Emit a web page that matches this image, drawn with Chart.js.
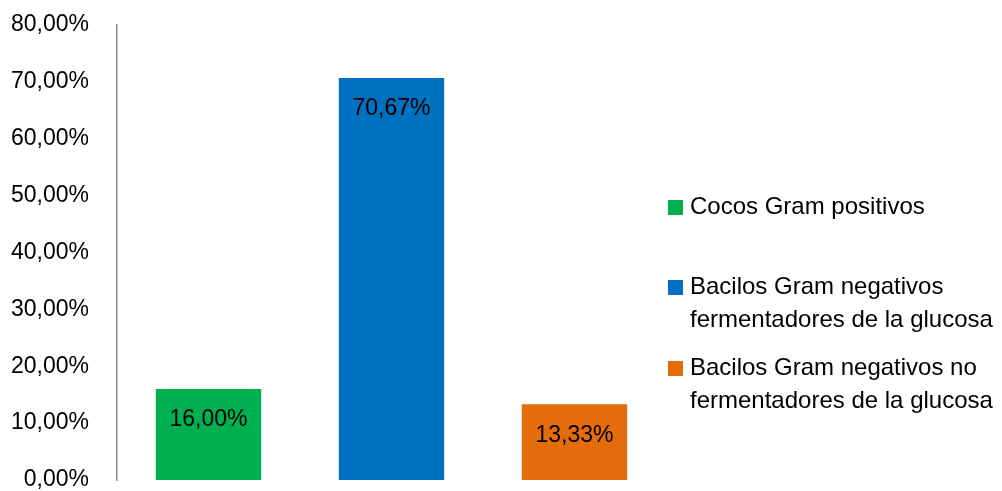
<!DOCTYPE html>
<html>
<head>
<meta charset="utf-8">
<script src="https://cdn.jsdelivr.net/npm/chart.js@4"></script>
<style>
  html, body { margin: 0; padding: 0; background: #fff; }
  canvas { display: block; }
</style>
</head>
<body>
<canvas id="grafico" width="1002" height="491"></canvas>
<script>
const categorias = [
  ["Cocos Gram positivos"],
  ["Bacilos Gram negativos", "fermentadores de la glucosa"],
  ["Bacilos Gram negativos no", "fermentadores de la glucosa"]
];
const porcentajes = [16.00, 70.67, 13.33];
const colores = ["#00B050", "#0070C0", "#E46C0A"];
const yMin = 0;
const yMax = 80;
const yPaso = 10;

const FONT = "'Liberation Sans', Arial, sans-serif";
const fmt = v => v.toFixed(2).replace(".", ",") + "%";

// etiquetas dentro de cada barra, cerca del borde superior
const etiquetas = {
  id: "etiquetas",
  afterDatasetsDraw(chart) {
    const ctx = chart.ctx;
    const meta = chart.getDatasetMeta(0);
    ctx.save();
    ctx.font = "23px " + FONT;
    ctx.fillStyle = "#000";
    ctx.textAlign = "center";
    ctx.textBaseline = "middle";
    meta.data.forEach((bar, i) => {
      ctx.fillText(fmt(porcentajes[i]), bar.x, bar.y + 31);
    });
    ctx.restore();
  }
};

// leyenda a la derecha, texto en varias lineas
const leyenda = {
  id: "leyenda",
  afterDraw(chart) {
    const ctx = chart.ctx;
    const x0 = 668;
    const tops = [207, 287, 368];
    const lineH = 33;
    ctx.save();
    ctx.font = "24px " + FONT;
    ctx.fillStyle = "#000";
    ctx.textAlign = "left";
    ctx.textBaseline = "middle";
    categorias.forEach((lineas, i) => {
      ctx.fillStyle = colores[i];
      ctx.fillRect(x0, tops[i] - 7, 15, 15);
      ctx.fillStyle = "#000";
      lineas.forEach((t, j) => ctx.fillText(t, x0 + 22, tops[i] + j * lineH));
    });
    ctx.restore();
  }
};

new Chart(document.getElementById("grafico"), {
  type: "bar",
  data: {
    labels: categorias.map(c => c.join(" ")),
    datasets: [{
      data: porcentajes,
      backgroundColor: colores,
      barPercentage: 0.576,
      categoryPercentage: 1
    }]
  },
  options: {
    responsive: false,
    animation: false,
    layout: { padding: { top: 25, right: 336, bottom: 11, left: 0 } },
    plugins: {
      legend: { display: false },
      tooltip: { enabled: false }
    },
    scales: {
      x: {
        display: false
      },
      y: {
        min: yMin,
        max: yMax,
        ticks: {
          stepSize: yPaso,
          padding: 28,
          color: "#000",
          font: { family: FONT, size: 23 },
          callback: v => fmt(v)
        },
        grid: { display: false, drawTicks: false },
        border: { display: true, color: "#8C8C8C", width: 1.5 },
        afterFit: s => {
          s.width = 117;
          s.paddingTop = 0;
          s.paddingBottom = 0;
        }
      }
    }
  },
  plugins: [etiquetas, leyenda]
});
</script>
</body>
</html>
